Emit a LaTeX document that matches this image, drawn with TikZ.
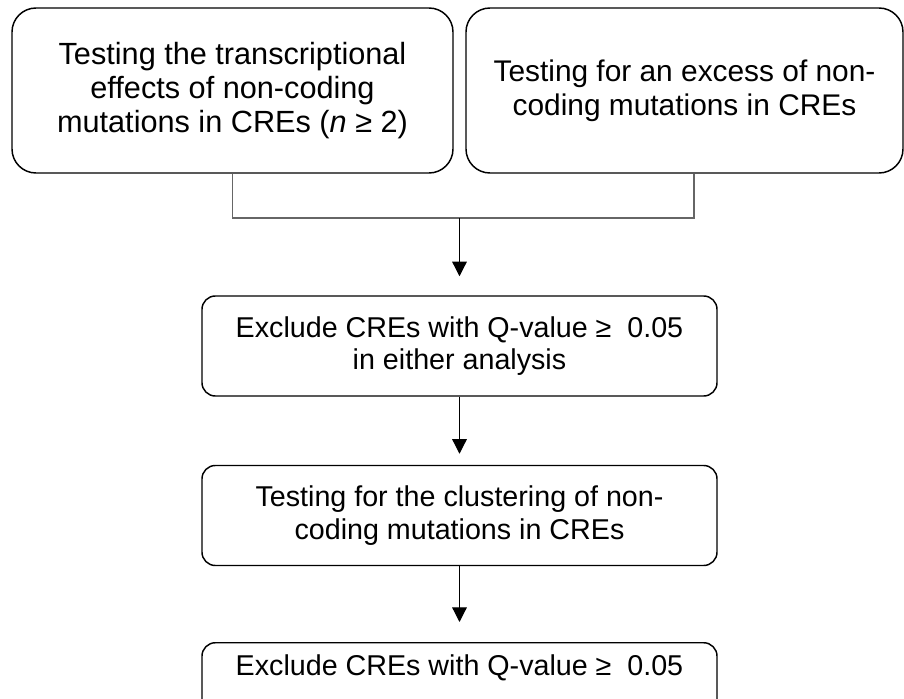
\documentclass[tikz,border=0pt]{standalone}
\usepackage{fontspec}
\setmainfont{Liberation Sans}
\usetikzlibrary{arrows.meta}

\begin{document}
\begin{tikzpicture}[x=0.75pt, y=-0.75pt,
  topbox/.style={draw, line width=1.1pt, rounded corners=18pt, align=center, minimum height=123.75pt},
  stepbox/.style={draw, line width=1.1pt, rounded corners=10pt, align=center, minimum width=386.25pt, font=\fontsize{21.5}{24.5}\selectfont},
  link/.style={draw=black!60, line width=0.8pt},
  flow/.style={line width=0.9pt, -{Triangle[width=11pt,length=11pt]}}]
\useasboundingbox (0,0) rectangle (904,699);
\node[topbox, minimum width=330.75pt, font=\fontsize{23}{25.5}\selectfont] (T1) at (232.5,90.5) {Testing the transcriptional\\effects of non-coding\\mutations in CREs (\textit{n} ≥ 2)};
\node[topbox, minimum width=327.75pt, font=\fontsize{22.4}{25.5}\selectfont] (T2) at (684.5,90.5) {Testing for an excess of non-\\coding mutations in CREs};
\coordinate (merge) at (459.5,218);
\node[stepbox, minimum height=75pt] (S1) at (459.5,346) {Exclude CREs with Q-value ≥\ \ 0.05\\in either analysis};
\node[stepbox, minimum height=75pt] (S2) at (459.5,515.5) {Testing for the clustering of non-\\coding mutations in CREs};
\node[stepbox, anchor=north, inner ysep=9pt, text depth=40pt] (S3) at (459.5,642) {Exclude CREs with Q-value ≥\ \ 0.05};
\draw[link] (T1.south) |- (merge) -| ([xshift=7.1pt]T2.south);
\draw[flow, shorten >=14.25pt] (merge) -- (S1);
\draw[flow, shorten >=8.25pt] (S1) -- (S2);
\draw[flow, shorten >=15pt] (S2) -- (S3);
\end{tikzpicture}
\end{document}
